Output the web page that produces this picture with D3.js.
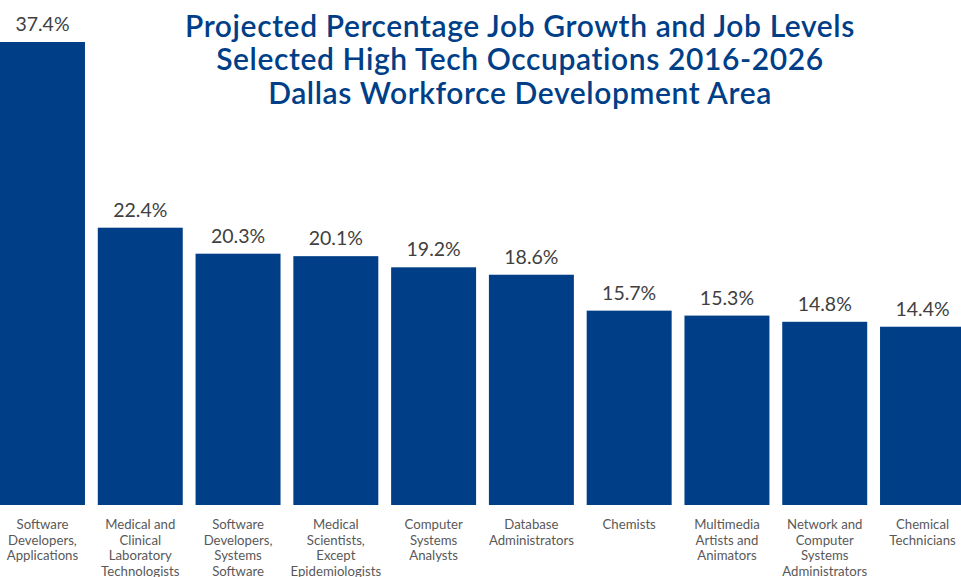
<!DOCTYPE html>
<html>
<head>
<meta charset="utf-8">
<script src="https://cdn.jsdelivr.net/npm/d3@7"></script>
<style>
  body { margin: 0; background: #fff; }
  svg { display: block; font-family: Lato, sans-serif; }
</style>
</head>
<body>
<div id="chart"></div>
<script>
var occupations = [
    ["Software", "Developers,", "Applications"],
    ["Medical and", "Clinical", "Laboratory", "Technologists"],
    ["Software", "Developers,", "Systems", "Software"],
    ["Medical", "Scientists,", "Except", "Epidemiologists"],
    ["Computer", "Systems", "Analysts"],
    ["Database", "Administrators"],
    ["Chemists"],
    ["Multimedia", "Artists and", "Animators"],
    ["Network and", "Computer", "Systems", "Administrators"],
    ["Chemical", "Technicians"]
];
var growth = [37.4, 22.4, 20.3, 20.1, 19.2, 18.6, 15.7, 15.3, 14.8, 14.4];
var titleLines = [
    "Projected Percentage Job Growth and Job Levels",
    "Selected High Tech Occupations 2016-2026",
    "Dallas Workforce Development Area"
];

var width = 961, height = 577,
    baseY = 505;

var svg = d3.select("#chart").append("svg")
    .attr("width", width)
    .attr("height", height);

var idx = d3.range(growth.length);

// set the ranges
var x = d3.scaleBand()
    .domain(idx)
    .range([0, 965])
    .paddingInner(0.131)
    .paddingOuter(0);

var y = d3.scaleLinear()
    .domain([0, 37.4])
    .range([baseY, 42]);

// bars
svg.selectAll("rect.bar")
    .data(growth)
    .enter().append("rect")
    .attr("class", "bar")
    .attr("x", function(d, i) { return x(i); })
    .attr("width", x.bandwidth())
    .attr("y", function(d) { return y(d); })
    .attr("height", function(d) { return baseY - y(d); })
    .attr("fill", "#003f87");

// value labels
svg.selectAll("text.value")
    .data(growth)
    .enter().append("text")
    .attr("class", "value")
    .attr("x", function(d, i) { return x(i) + x.bandwidth() / 2; })
    .attr("y", function(d) { return y(d) - 11; })
    .attr("text-anchor", "middle")
    .attr("font-size", "19.5px")
    .attr("fill", "#404040")
    .text(function(d) { return d.toFixed(1) + "%"; });

// category labels
var cat = svg.selectAll("text.cat")
    .data(occupations)
    .enter().append("text")
    .attr("class", "cat")
    .attr("text-anchor", "middle")
    .attr("font-size", "13.2px")
    .attr("fill", "#595959")
    .attr("transform", function(d, i) {
        return "translate(" + (x(i) + x.bandwidth() / 2) + ",529)";
    });

cat.selectAll("tspan")
    .data(function(d) { return d; })
    .enter().append("tspan")
    .attr("x", 0)
    .attr("y", function(d, j) { return j * 15.6; })
    .text(function(d) { return d; });

// title
svg.append("g")
    .selectAll("text")
    .data(titleLines)
    .enter().append("text")
    .attr("x", 520)
    .attr("y", function(d, i) { return 37 + i * 33.3; })
    .attr("text-anchor", "middle")
    .attr("font-size", "30px")
    .attr("font-weight", "600")
    .attr("letter-spacing", "0.6px")
    .attr("fill", "#003f87")
    .text(function(d) { return d; });
</script>
</body>
</html>
